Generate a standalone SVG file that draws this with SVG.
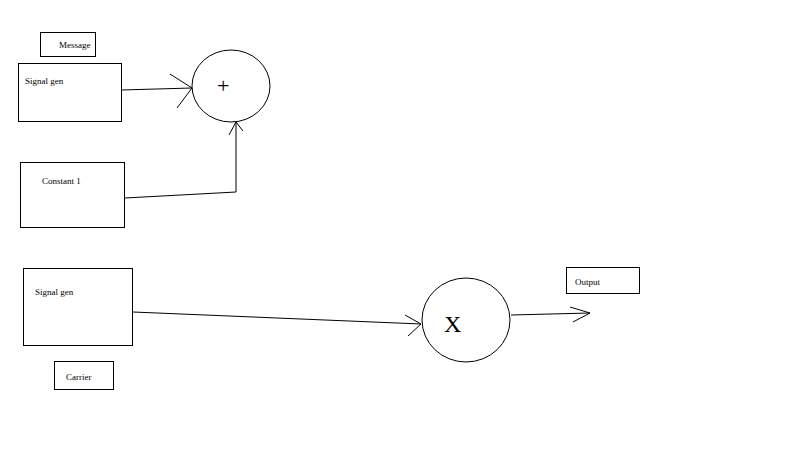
<svg xmlns="http://www.w3.org/2000/svg" width="800" height="458" viewBox="0 0 800 458">
<style>
.b{fill:#fff;stroke:#000;stroke-width:1}
.t{font-family:"Liberation Serif",serif;font-size:9px;fill:#000}
.c{fill:none;stroke:#000;stroke-width:1}
</style>
<rect width="800" height="458" fill="#fff"/>
<g id="message"><rect class="b" x="40.5" y="32.5" width="55" height="24"/><text class="t" x="59" y="48">Message</text></g>
<g id="signal-gen-1"><rect class="b" x="18.5" y="63.5" width="103" height="58"/><text class="t" x="25" y="84">Signal gen</text></g>
<g id="sum"><ellipse class="b" cx="231" cy="86" rx="39" ry="36"/><text x="217" y="93" style="font-family:'Liberation Serif',serif;font-size:22px">+</text></g>
<g id="constant"><rect class="b" x="20.5" y="162.5" width="104" height="65"/><text class="t" x="42" y="184">Constant 1</text></g>
<g id="signal-gen-2"><rect class="b" x="23.5" y="268.5" width="109" height="77"/><text class="t" x="35" y="295">Signal gen</text></g>
<g id="carrier"><rect class="b" x="54.5" y="361.5" width="59" height="28"/><text class="t" x="66" y="380">Carrier</text></g>
<g id="mult"><ellipse class="b" cx="466" cy="320" rx="44" ry="42"/><text x="444" y="332" style="font-family:'Liberation Serif',serif;font-size:24px">X</text></g>
<g id="output"><rect class="b" x="566.5" y="267.5" width="73" height="26"/><text class="t" x="575" y="285">Output</text></g>
<g id="connectors">
<path class="c" d="M121 90 L192 88 M170 74 L192 88 L177 108"/>
<path class="c" d="M125 198 L236 192 L236 122 M229 135 L236 122 L243 131"/>
<path class="c" d="M133 312 L421 324 M405 315 L421 324 L408 336"/>
<path class="c" d="M511 315 L590 313 M570 307 L590 313 L573 322"/>
</g>
</svg>
